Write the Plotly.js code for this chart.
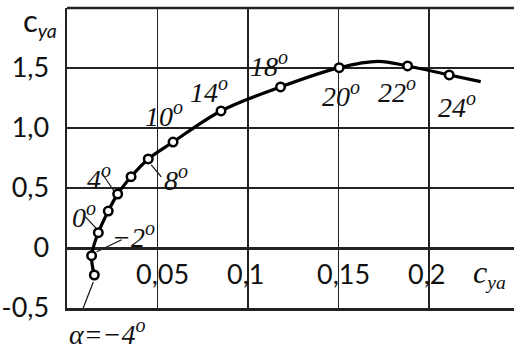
<!DOCTYPE html>
<html><head><meta charset="utf-8">
<script src="https://cdn.plot.ly/plotly-3.0.1.min.js"></script>
<style>html,body{margin:0;padding:0;background:#fff;}#chart{width:514px;height:349px;}</style>
</head><body><div id="chart"></div>
<script>
// angle of attack for each measured point
const pointAlpha = [-4, -2, 0, 2, 4, 6, 8, 10, 14, 18, 20, 22, 24];
// measured points (x = drag coefficient, y = lift coefficient)
const pointCx = [0.0151, 0.0136, 0.0173, 0.0228, 0.0280, 0.0354, 0.0449, 0.0586, 0.0851, 0.1180, 0.1504, 0.1882, 0.2112];
const pointCy = [-0.225, -0.064, 0.128, 0.308, 0.450, 0.594, 0.742, 0.883, 1.142, 1.342, 1.503, 1.517, 1.442];
// faired curve (passes through the points, peak and tail added)
const curveCx = [0.0151, 0.0136, 0.0173, 0.0228, 0.0280, 0.0354, 0.0449, 0.0586, 0.0851, 0.1180, 0.1504, 0.1720, 0.1882, 0.2112, 0.2286];
const curveCy = [-0.225, -0.064, 0.128, 0.308, 0.450, 0.594, 0.742, 0.883, 1.142, 1.342, 1.503, 1.556, 1.517, 1.442, 1.386];
// point labels (null = unlabelled)
const pointLabels = ['α=−4', '−2', '0', null, '4', null, '8', '10', '14', '18', '20', '22', '24'];
// axis ticks
const yTickVals = [-0.5, 0, 0.5, 1.0, 1.5];
const yTickText = ['-0,5', '0', '0,5', '1,0', '1,5'];
const xTickVals = [0.05, 0.1, 0.15, 0.2];
const xTickText = ['0,05', '0,1', '0,15', '0,2'];

// label offsets in px from the point (dx right, dy down)
const labelOffsets = {
  '-4': [13, 57], '-2': [42, -21], '0': [-14, -18], '4': [-19, -17], '8': [28, 19],
  '10': [-9, -28], '14': [-12, -21], '18': [-12, -23], '20': [2, 26], '22': [-11, 24], '24': [8, 30]
};
// leader lines in px from the point: [dx0, dy0, dx1, dy1], dy down
const leaders = {
  '-4': [-1, 7, -17, 48], '-2': [5, -4, 30, -16], '0': [-13, -16, -1, -3],
  '4': [-16, -21, -3, -2], '8': [3, 6, 13, 18]
};

const serif = 'Liberation Serif, Times New Roman, serif';
const sans = 'Lato, Open Sans, sans-serif';
const ink = '#111';

const annotations = [];
const shapes = [];
pointAlpha.forEach((a, i) => {
  const lab = pointLabels[i];
  if (lab === null) return;
  const off = labelOffsets[String(a)];
  annotations.push({
    x: pointCx[i], y: pointCy[i], xref: 'x', yref: 'y',
    text: '<i>' + lab + '<sup><span style="font-size:20px">o</span></sup></i>', showarrow: false,
    xanchor: 'center', yanchor: 'middle',
    xshift: off[0], yshift: -off[1],
    font: {family: serif, size: 28, color: ink}
  });
  const ld = leaders[String(a)];
  if (ld) {
    shapes.push({
      type: 'line', xref: 'x', yref: 'y', xsizemode: 'pixel', ysizemode: 'pixel',
      xanchor: pointCx[i], yanchor: pointCy[i],
      x0: ld[0], y0: -ld[1], x1: ld[2], y1: -ld[3],
      line: {color: ink, width: 1.2}, layer: 'below'
    });
  }
});
// x tick labels drawn inside the plot, comma on the grid line
xTickVals.forEach((v, i) => {
  annotations.push({
    x: v, y: -0.21, xref: 'x', yref: 'y', text: xTickText[i], showarrow: false,
    xanchor: 'left', yanchor: 'middle', xshift: -23,
    font: {family: sans, size: 27, color: ink}
  });
});
// axis names
annotations.push({
  x: 0.2235, y: -0.21, xref: 'x', yref: 'y',
  text: '<i><span style="font-size:32px">c</span><sub>ya</sub></i>', showarrow: false,
  xanchor: 'left', yanchor: 'middle', font: {family: serif, size: 28, color: ink}
});
annotations.push({
  x: -0.103, y: 0.955, xref: 'paper', yref: 'paper',
  text: '<span style="font-size:31px">c</span><sub><i>ya</i></sub>', showarrow: false,
  xanchor: 'left', yanchor: 'middle', font: {family: sans, size: 28, color: ink}
});
// top frame line
shapes.push({type: 'line', xref: 'paper', yref: 'paper', x0: 0, x1: 1, y0: 1, y1: 1, line: {color: '#222', width: 2.5}});

const traces = [
  {x: curveCx, y: curveCy, mode: 'lines', line: {color: '#000', width: 3.2, shape: 'spline', smoothing: 1}, hoverinfo: 'skip'},
  {x: pointCx, y: pointCy, mode: 'markers', marker: {symbol: 'circle', size: 8.5, color: '#fff', line: {color: '#000', width: 2.5}}}
];

const layout = {
  width: 514, height: 349,
  margin: {l: 67, r: 0, t: 8, b: 41},
  paper_bgcolor: '#fff', plot_bgcolor: '#fff',
  showlegend: false,
  xaxis: {
    range: [0, 0.247], tickvals: xTickVals, showticklabels: false,
    showgrid: true, gridcolor: '#222', gridwidth: 1.4,
    zeroline: false, showline: true, linecolor: '#222', linewidth: 2.5, ticks: ''
  },
  yaxis: {
    range: [-0.5, 2.0], tickvals: yTickVals, ticktext: yTickText,
    showgrid: true, gridcolor: '#222', gridwidth: 1.4,
    zeroline: true, zerolinecolor: '#222', zerolinewidth: 3,
    showline: true, linecolor: '#222', linewidth: 2.5, ticks: '',
    ticklabelstandoff: 10,
    tickfont: {family: sans, size: 27, color: ink}
  },
  annotations: annotations,
  shapes: shapes
};

Plotly.newPlot('chart', traces, layout, {staticPlot: true, displayModeBar: false});
</script></body></html>
